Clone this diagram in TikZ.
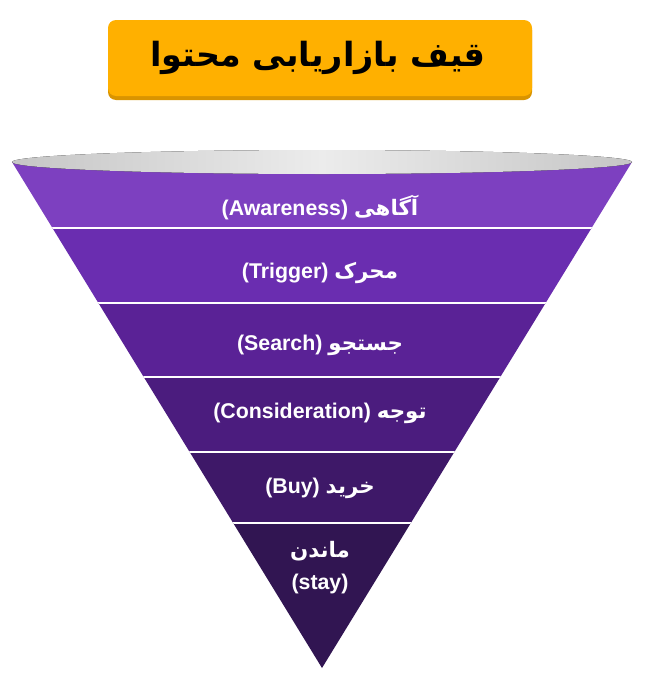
\documentclass[tikz,border=0pt]{standalone}
\usepackage{fontspec}
\setmainfont{Liberation Sans}
\newfontfamily\fa[Script=Arabic]{DejaVu Sans}
\TeXXeTstate=1
\newcommand{\rtl}[1]{\beginR{\fa #1}\endR}
\usetikzlibrary{positioning}
\definecolor{titleorange}{HTML}{FFB000}
\definecolor{titleshade}{HTML}{D99400}
\definecolor{bandA}{HTML}{7D40C0}
\definecolor{bandB}{HTML}{6A2DB0}
\definecolor{bandC}{HTML}{5A2296}
\definecolor{bandD}{HTML}{4B1C7E}
\definecolor{bandE}{HTML}{3E1868}
\definecolor{bandF}{HTML}{311552}
\tikzstyle{label} = [text=white, font=\bfseries\fontsize{16}{20}\selectfont, align=center]
\tikzstyle{sep}   = [draw=white, line width=1.2pt]
\begin{document}
\begin{tikzpicture}[x=0.75pt, y=-0.75pt]
	\useasboundingbox (0,0) rectangle (650,689);
	% Title %
	\fill [titleshade, rounded corners=6pt] (108,22) rectangle (532,100);
	\fill [titleorange, rounded corners=6pt] (108,20) rectangle (532,96);
	\node [font=\bfseries\fontsize{25}{30}\selectfont] (title) at (318,58) {\rtl{قیف بازاریابی محتوا}};
	% Funnel %
	\begin{scope}
		\clip (12,162) -- (632,162) -- (322,668) -- cycle;
		\fill [bandA] (0,150) rectangle (650,228);
		\fill [bandB] (0,228) rectangle (650,303);
		\fill [bandC] (0,303) rectangle (650,377);
		\fill [bandD] (0,377) rectangle (650,452);
		\fill [bandE] (0,452) rectangle (650,523);
		\fill [bandF] (0,523) rectangle (650,680);
		\foreach \y in {228,303,377,452,523}
			\draw [sep] (0,\y) -- (650,\y);
	\end{scope}
	\fill [left color=gray!45, right color=gray!45, middle color=gray!15] (322,162) ellipse (310 and 12);
	% Labels %
	\node [label] (awareness) at (320,208) {(Awareness) \rtl{آگاهی}};
	\node [label] (trigger) at (320,273) {(Trigger) \rtl{محرک}};
	\node [label] (search) at (320,345) {(Search) \rtl{جستجو}};
	\node [label] (consideration) at (320,413) {(Consideration) \rtl{توجه}};
	\node [label] (buy) at (320,488) {(Buy) \rtl{خرید}};
	\node [label] (stay) at (320,568) {\rtl{ماندن}\\[4pt](stay)};
\end{tikzpicture}
\end{document}
